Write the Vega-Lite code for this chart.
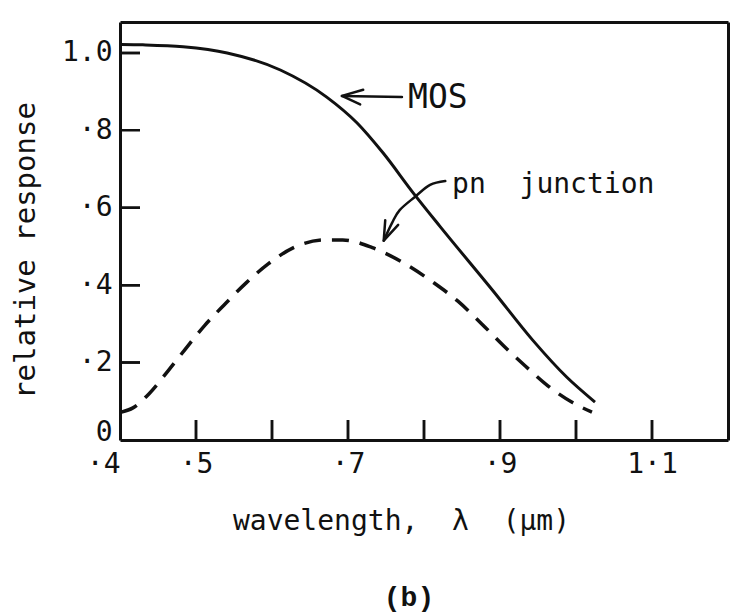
{
  "$schema": "https://vega.github.io/schema/vega-lite/v6.json",
  "width": 608,
  "height": 418,
  "autosize": {"type": "none"},
  "padding": {"left": 120, "top": 22, "right": 5, "bottom": 176},
  "background": "white",
  "view": {"stroke": null},
  "title": {
    "text": "(b)",
    "orient": "bottom",
    "anchor": "middle",
    "offset": 49,
    "dx": -15,
    "font": "Liberation Mono",
    "fontSize": 28,
    "fontWeight": "bold",
    "color": "#111"
  },
  "config": {
    "font": "DejaVu Sans Mono",
    "axis": {
      "grid": false,
      "ticks": false,
      "domainColor": "#111",
      "domainWidth": 3,
      "labelFont": "DejaVu Sans Mono",
      "labelFontSize": 28,
      "labelColor": "#111",
      "titleFont": "DejaVu Sans Mono",
      "titleFontSize": 28,
      "titleFontWeight": "normal",
      "titleColor": "#111"
    }
  },
  "datasets": {
    "curves": [
      {"device": "MOS", "wavelength": 0.402, "response": 1.022},
      {"device": "MOS", "wavelength": 0.43, "response": 1.021},
      {"device": "MOS", "wavelength": 0.483, "response": 1.016},
      {"device": "MOS", "wavelength": 0.541, "response": 1.0},
      {"device": "MOS", "wavelength": 0.611, "response": 0.956},
      {"device": "MOS", "wavelength": 0.672, "response": 0.886},
      {"device": "MOS", "wavelength": 0.712, "response": 0.819},
      {"device": "MOS", "wavelength": 0.746, "response": 0.742},
      {"device": "MOS", "wavelength": 0.786, "response": 0.638},
      {"device": "MOS", "wavelength": 0.821, "response": 0.552},
      {"device": "MOS", "wavelength": 0.891, "response": 0.385},
      {"device": "MOS", "wavelength": 0.943, "response": 0.258},
      {"device": "MOS", "wavelength": 0.988, "response": 0.162},
      {"device": "MOS", "wavelength": 1.025, "response": 0.098},
      {"device": "pn junction", "wavelength": 0.402, "response": 0.072},
      {"device": "pn junction", "wavelength": 0.417, "response": 0.083},
      {"device": "pn junction", "wavelength": 0.438, "response": 0.119},
      {"device": "pn junction", "wavelength": 0.463, "response": 0.178},
      {"device": "pn junction", "wavelength": 0.486, "response": 0.235},
      {"device": "pn junction", "wavelength": 0.511, "response": 0.295},
      {"device": "pn junction", "wavelength": 0.537, "response": 0.349},
      {"device": "pn junction", "wavelength": 0.566, "response": 0.406},
      {"device": "pn junction", "wavelength": 0.595, "response": 0.455},
      {"device": "pn junction", "wavelength": 0.633, "response": 0.501},
      {"device": "pn junction", "wavelength": 0.671, "response": 0.517},
      {"device": "pn junction", "wavelength": 0.693, "response": 0.517},
      {"device": "pn junction", "wavelength": 0.732, "response": 0.497},
      {"device": "pn junction", "wavelength": 0.771, "response": 0.46},
      {"device": "pn junction", "wavelength": 0.813, "response": 0.406},
      {"device": "pn junction", "wavelength": 0.845, "response": 0.358},
      {"device": "pn junction", "wavelength": 0.876, "response": 0.3},
      {"device": "pn junction", "wavelength": 0.905, "response": 0.243},
      {"device": "pn junction", "wavelength": 0.934, "response": 0.19},
      {"device": "pn junction", "wavelength": 0.963, "response": 0.14},
      {"device": "pn junction", "wavelength": 0.996, "response": 0.096},
      {"device": "pn junction", "wavelength": 1.021, "response": 0.072}
    ],
    "frameTicks": [
      {"side": "bottom", "at": 0.5}, {"side": "bottom", "at": 0.6}, {"side": "bottom", "at": 0.7},
      {"side": "bottom", "at": 0.8}, {"side": "bottom", "at": 0.9}, {"side": "bottom", "at": 1.0},
      {"side": "bottom", "at": 1.1},
      {"side": "top", "at": 0.5}, {"side": "top", "at": 0.6}, {"side": "top", "at": 0.7},
      {"side": "top", "at": 0.8}, {"side": "top", "at": 0.9}, {"side": "top", "at": 1.0},
      {"side": "top", "at": 1.1},
      {"side": "left", "at": 0.2}, {"side": "left", "at": 0.4}, {"side": "left", "at": 0.6},
      {"side": "left", "at": 0.8}, {"side": "left", "at": 1.0},
      {"side": "right", "at": 0.2}, {"side": "right", "at": 0.4}, {"side": "right", "at": 0.6},
      {"side": "right", "at": 1.0}
    ],
    "arrowLines": [
      {"path": "mos shaft", "step": 0, "wavelength": 0.771, "response": 0.886},
      {"path": "mos shaft", "step": 1, "wavelength": 0.692, "response": 0.889},
      {"path": "mos head", "step": 0, "wavelength": 0.72, "response": 0.905},
      {"path": "mos head", "step": 1, "wavelength": 0.692, "response": 0.889},
      {"path": "mos head", "step": 2, "wavelength": 0.716, "response": 0.867},
      {"path": "pn head", "step": 0, "wavelength": 0.749, "response": 0.568},
      {"path": "pn head", "step": 1, "wavelength": 0.747, "response": 0.515},
      {"path": "pn head", "step": 2, "wavelength": 0.766, "response": 0.556}
    ],
    "arrowCurve": [
      {"step": 0, "wavelength": 0.828, "response": 0.669},
      {"step": 1, "wavelength": 0.808, "response": 0.659},
      {"step": 2, "wavelength": 0.788, "response": 0.628},
      {"step": 3, "wavelength": 0.768, "response": 0.594},
      {"step": 4, "wavelength": 0.758, "response": 0.561},
      {"step": 5, "wavelength": 0.747, "response": 0.515}
    ],
    "notes": [
      {"text": "MOS", "wavelength": 0.779, "response": 0.858, "size": 33},
      {"text": "pn\u00a0\u00a0junction", "wavelength": 0.837, "response": 0.638, "size": 28}
    ]
  },
  "resolve": {"axis": {"x": "independent", "y": "independent"}},
  "layer": [
    {
      "data": {"name": "curves"},
      "transform": [{"filter": "datum.device === 'MOS'"}],
      "mark": {"type": "line", "interpolate": "monotone", "color": "#111", "strokeWidth": 3},
      "encoding": {
        "x": {
          "field": "wavelength", "type": "quantitative",
          "scale": {"domain": [0.4, 1.2], "nice": false, "zero": false},
          "axis": {
            "orient": "bottom",
            "values": [0.4, 0.5, 0.7, 0.9, 1.1],
            "labelExpr": "['·4','·5','','·7','','·9','','1·1'][round(datum.value*10)-4]",
            "labelAlign": {"condition": {"test": "datum.value < 0.45", "value": "right"}, "value": "center"},
            "labelPadding": 10,
            "labelBaseline": "top",
            "title": "wavelength,\u00a0\u00a0λ\u00a0\u00a0(μm)",
            "titleX": 281,
            "titleY": 81,
            "titleAlign": "center",
            "titleBaseline": "middle"
          }
        },
        "y": {
          "field": "response", "type": "quantitative",
          "scale": {"domain": [0, 1.08], "nice": false},
          "axis": {
            "orient": "left",
            "values": [0, 0.2, 0.4, 0.6, 0.8, 1.0],
            "labelExpr": "['0','·2','·4','·6','·8','1.0'][round(datum.value*5)]",
            "labelBaseline": {"condition": {"test": "datum.value === 0", "value": "alphabetic"}, "value": "middle"},
            "labelPadding": 8,
            "title": "relative response",
            "titleFontSize": 29,
            "titleX": -95,
            "titleY": 228,
            "titleAngle": 270,
            "titleAlign": "center",
            "titleBaseline": "middle"
          }
        }
      }
    },
    {
      "data": {"name": "curves"},
      "transform": [{"filter": "datum.device === 'pn junction'"}],
      "mark": {"type": "line", "interpolate": "monotone", "color": "#111", "strokeWidth": 3.5, "strokeDash": [17, 11]},
      "encoding": {
        "x": {
          "field": "wavelength", "type": "quantitative",
          "axis": {"orient": "top", "labels": false, "title": null}
        },
        "y": {
          "field": "response", "type": "quantitative",
          "axis": {"orient": "right", "labels": false, "title": null}
        }
      }
    },
    {
      "data": {"name": "frameTicks"},
      "transform": [{"filter": "datum.side === 'bottom' || datum.side === 'top'"}],
      "mark": {"type": "tick", "orient": "vertical", "size": 40, "thickness": 2.5, "clip": true, "color": "#111", "opacity": 1},
      "encoding": {
        "x": {"field": "at", "type": "quantitative", "axis": null},
        "y": {
          "condition": {"test": "datum.side === 'top'", "datum": 1.08},
          "datum": 0,
          "axis": null
        }
      }
    },
    {
      "data": {"name": "frameTicks"},
      "transform": [{"filter": "datum.side === 'left' || datum.side === 'right'"}],
      "mark": {"type": "tick", "orient": "horizontal", "size": 40, "thickness": 2.5, "clip": true, "color": "#111", "opacity": 1},
      "encoding": {
        "y": {"field": "at", "type": "quantitative", "axis": null},
        "x": {
          "condition": {"test": "datum.side === 'right'", "datum": 1.2},
          "datum": 0.4,
          "axis": null
        }
      }
    },
    {
      "data": {"name": "arrowLines"},
      "mark": {"type": "line", "color": "#111", "strokeWidth": 2.5, "strokeCap": "round", "strokeJoin": "round"},
      "encoding": {
        "x": {"field": "wavelength", "type": "quantitative", "axis": null},
        "y": {"field": "response", "type": "quantitative", "axis": null},
        "detail": {"field": "path"},
        "order": {"field": "step", "type": "quantitative"}
      }
    },
    {
      "data": {"name": "arrowCurve"},
      "mark": {"type": "line", "interpolate": "cardinal", "color": "#111", "strokeWidth": 2.5, "strokeCap": "round"},
      "encoding": {
        "x": {"field": "wavelength", "type": "quantitative", "axis": null},
        "y": {"field": "response", "type": "quantitative", "axis": null},
        "order": {"field": "step", "type": "quantitative"}
      }
    },
    {
      "data": {"name": "notes"},
      "mark": {"type": "text", "align": "left", "baseline": "alphabetic", "font": "DejaVu Sans Mono", "color": "#111"},
      "encoding": {
        "x": {"field": "wavelength", "type": "quantitative", "axis": null},
        "y": {"field": "response", "type": "quantitative", "axis": null},
        "text": {"field": "text"},
        "size": {"field": "size", "type": "quantitative", "scale": null}
      }
    }
  ]
}
